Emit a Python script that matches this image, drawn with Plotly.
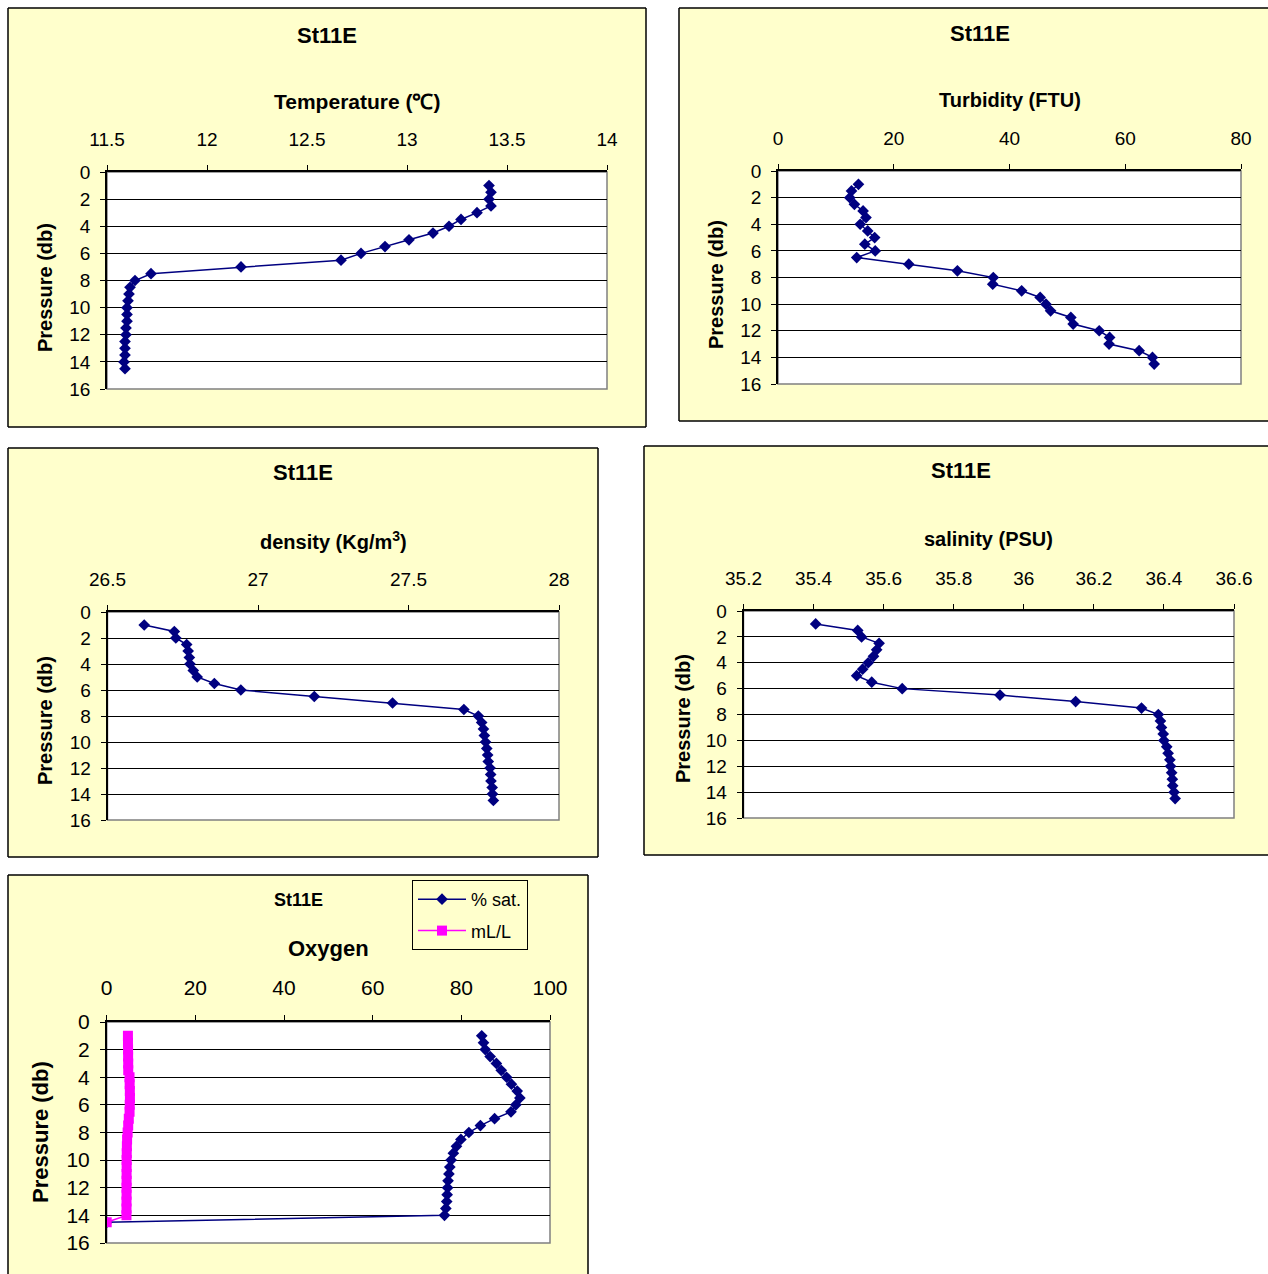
import plotly.graph_objects as go

W, H = 1268, 1274

# ---- CTD cast, station St11E ----
station = "St11E"

depth_db = [1, 1.5, 2, 2.5, 3, 3.5, 4, 4.5, 5, 5.5, 6, 6.5, 7, 7.5,
            8, 8.5, 9, 9.5, 10, 10.5, 11, 11.5, 12, 12.5, 13, 13.5, 14, 14.5]

temperature_c = [13.41, 13.42, 13.41, 13.42, 13.35, 13.27, 13.21, 13.13, 13.01, 12.89,
                 12.77, 12.67, 12.17, 11.72, 11.64, 11.615, 11.61, 11.605, 11.60, 11.60,
                 11.60, 11.595, 11.595, 11.59, 11.59, 11.59, 11.585, 11.59]

turbidity_ftu = [13.9, 12.7, 12.4, 13.2, 14.7, 15.2, 14.2, 15.5, 16.7, 15.0,
                 16.8, 13.6, 22.6, 31.0, 37.2, 37.1, 42.1, 45.3, 46.3, 47.1,
                 50.6, 51.0, 55.5, 57.3, 57.2, 62.4, 64.7, 65.0]

density_kgm3 = [26.622, 26.722, 26.727, 26.763, 26.768, 26.772, 26.774, 26.785, 26.798, 26.855,
                26.943, 27.187, 27.447, 27.684, 27.732, 27.743, 27.749, 27.752, 27.756, 27.760,
                27.763, 27.765, 27.771, 27.773, 27.774, 27.778, 27.779, 27.782]

salinity_psu = [35.406, 35.526, 35.537, 35.587, 35.580, 35.571, 35.556, 35.540, 35.523, 35.566,
                35.653, 35.932, 36.148, 36.336, 36.384, 36.390, 36.393, 36.398, 36.400, 36.408,
                36.412, 36.417, 36.419, 36.422, 36.424, 36.425, 36.429, 36.432]

oxygen_sat_pct = [84.6, 85.0, 85.4, 86.5, 87.9, 89.0, 90.2, 91.3, 92.6, 93.2,
                  92.3, 91.2, 87.5, 84.3, 81.7, 79.9, 78.9, 78.2, 77.7, 77.4,
                  77.2, 77.0, 76.9, 76.8, 76.7, 76.5, 76.2, 0.0]

oxygen_ml_l = [4.79, 4.80, 4.82, 4.83, 4.85, 4.86, 5.15, 5.18, 5.22, 5.24,
               5.20, 5.16, 4.98, 4.85, 4.72, 4.60, 4.55, 4.52, 4.50, 4.50,
               4.49, 4.49, 4.48, 4.48, 4.47, 4.47, 4.46, 0.0]

pressure_range = [16, 0]
pressure_step = 2

# ---- styling ----
FONT = "Arial, 'Liberation Sans', sans-serif"
NAVY = "#000080"
PINK = "#FF00FF"
PANEL_FILL = "#FFFFCC"


def px(x):
    return min(max(x, 0), W) / W


def py(y):
    return 1 - min(max(y, 0), H) / H


# panel frame (x0, y0, x1, y1), plot area (x0, y0, x1, y1), title/label placement in pixels
panels = [
    dict(box=(8, 8, 646, 427), plot=(107, 172, 607, 389),
         title_y=36, xtitle="Temperature (℃)", xtitle_y=102, ytitle_x=45, ytitle_y=288,
         xrange=[11.5, 14], dtick=0.5, fs=19, tfs=21, yfs=20, sfs=22),
    dict(box=(679, 8, 1280, 421), plot=(778, 171, 1241, 384),
         title_y=34, xtitle="Turbidity (FTU)", xtitle_y=100, ytitle_x=716, ytitle_y=285,
         xrange=[0, 80], dtick=20, fs=19, tfs=20, yfs=20, sfs=22),
    dict(box=(8, 448, 598, 857), plot=(107.5, 612, 559, 820),
         title_y=472, xtitle="density (Kg/m<sup>3</sup>)", xtitle_y=541, ytitle_x=45, ytitle_y=721,
         xrange=[26.5, 28], dtick=0.5, fs=19, tfs=20, yfs=20, sfs=22),
    dict(box=(644, 446, 1278, 855), plot=(743.5, 611, 1234, 818),
         title_y=471, xtitle="salinity (PSU)", xtitle_y=539, ytitle_x=683, ytitle_y=719,
         xrange=[35.2, 36.6], dtick=0.2, fs=19, tfs=20, yfs=20, sfs=22),
    dict(box=(8, 875, 588, 1300), plot=(106.7, 1022, 550, 1243),
         title_y=900, xtitle="Oxygen", xtitle_y=948, ytitle_x=40, ytitle_y=1132,
         xrange=[0, 100], dtick=20, fs=21, tfs=22, yfs=22, sfs=18),
]

series = [
    [(temperature_c, NAVY, "diamond", "Temperature")],
    [(turbidity_ftu, NAVY, "diamond", "Turbidity")],
    [(density_kgm3, NAVY, "diamond", "density")],
    [(salinity_psu, NAVY, "diamond", "salinity")],
    [(oxygen_sat_pct, NAVY, "diamond", "% sat."), (oxygen_ml_l, PINK, "square", "mL/L")],
]

fig = go.Figure()
shapes = []
annotations = []

for i, (p, traces) in enumerate(zip(panels, series), start=1):
    sfx = "" if i == 1 else str(i)
    bx0, by0, bx1, by1 = p["box"]
    ax0, ay0, ax1, ay1 = p["plot"]

    # chart frame: fill clipped to the page, border only on the sides that fall inside it
    shapes.append(dict(type="rect", xref="paper", yref="paper", layer="below",
                       x0=px(bx0), x1=px(bx1), y0=py(by1), y1=py(by0),
                       fillcolor=PANEL_FILL, line=dict(width=0)))
    fx0, fx1, fy0, fy1 = px(bx0), px(bx1), py(by1), py(by0)
    edges = [((fx0, fy0), (fx0, fy1)), ((fx0, fy1), (fx1, fy1))]
    if bx1 <= W:
        edges.append(((fx1, fy1), (fx1, fy0)))
    if by1 <= H:
        edges.append(((fx0, fy0), (fx1, fy0)))
    for (sx, sy), (ex, ey) in edges:
        shapes.append(dict(type="line", xref="paper", yref="paper", layer="below",
                           x0=sx, y0=sy, x1=ex, y1=ey,
                           line=dict(color="#000000", width=1.5)))
    # plot area
    shapes.append(dict(type="rect", xref="paper", yref="paper", layer="below",
                       x0=px(ax0), x1=px(ax1), y0=py(ay1), y1=py(ay0),
                       fillcolor="#FFFFFF", line=dict(color="#808080", width=1.5)))

    fig.update_layout(**{
        f"xaxis{sfx}": dict(
            domain=[px(ax0), px(ax1)], anchor=f"y{sfx}", side="top",
            range=p["xrange"], dtick=p["dtick"], tick0=p["xrange"][0],
            showgrid=False, zeroline=False, showline=True, linecolor="#000000", linewidth=1.5,
            ticks="outside", ticklen=5, tickcolor="#000000", tickwidth=1,
            ticklabelstandoff=12, tickfont=dict(family=FONT, size=p["fs"], color="#000000"),
            automargin=False, fixedrange=True),
        f"yaxis{sfx}": dict(
            domain=[py(ay1), py(ay0)], anchor=f"x{sfx}",
            range=pressure_range, dtick=pressure_step, tick0=0,
            showgrid=True, gridcolor="#000000", gridwidth=1, zeroline=False,
            showline=True, linecolor="#000000", linewidth=1.5,
            ticks="outside", ticklen=5, tickcolor="#000000", tickwidth=1,
            ticklabelstandoff=6, tickfont=dict(family=FONT, size=p["fs"], color="#000000"),
            automargin=False, fixedrange=True),
    })

    for values, color, symbol, name in traces:
        fig.add_trace(go.Scatter(
            x=values, y=depth_db, mode="lines+markers", name=name,
            xaxis=f"x{sfx}", yaxis=f"y{sfx}",
            line=dict(color=color, width=1.5),
            marker=dict(symbol=symbol, size=9 if symbol == "diamond" else 10, color=color,
                        line=dict(width=0)),
            showlegend=(i == 5), legendgroup=name,
        ))

    # chart title
    annotations.append(dict(text=f"<b>{station}</b>", xref="paper", yref="paper",
                            x=px((bx0 + bx1) / 2), y=py(p["title_y"]),
                            xanchor="center", yanchor="middle", showarrow=False,
                            font=dict(family=FONT, size=p["sfs"], color="#000000")))
    # value-axis title
    annotations.append(dict(text=f"<b>{p['xtitle']}</b>", xref="paper", yref="paper",
                            x=px((ax0 + ax1) / 2), y=py(p["xtitle_y"]),
                            xanchor="center", yanchor="middle", showarrow=False,
                            font=dict(family=FONT, size=p["tfs"], color="#000000")))
    # pressure-axis title
    annotations.append(dict(text="<b>Pressure (db)</b>", xref="paper", yref="paper",
                            x=px(p["ytitle_x"]), y=py(p["ytitle_y"]), textangle=-90,
                            xanchor="center", yanchor="middle", showarrow=False,
                            font=dict(family=FONT, size=p["yfs"], color="#000000")))

fig.update_layout(
    width=W, height=H,
    margin=dict(l=0, r=0, t=0, b=0, pad=0, autoexpand=False),
    paper_bgcolor="#FFFFFF",
    plot_bgcolor="rgba(0,0,0,0)",
    shapes=shapes,
    annotations=annotations,
    showlegend=True,
    legend=dict(x=px(412), y=py(880), xanchor="left", yanchor="top",
                bgcolor=PANEL_FILL, bordercolor="#000000", borderwidth=1,
                font=dict(family=FONT, size=18, color="#000000"),
                tracegroupgap=5, itemwidth=48),
)

fig.write_html("out.html")
